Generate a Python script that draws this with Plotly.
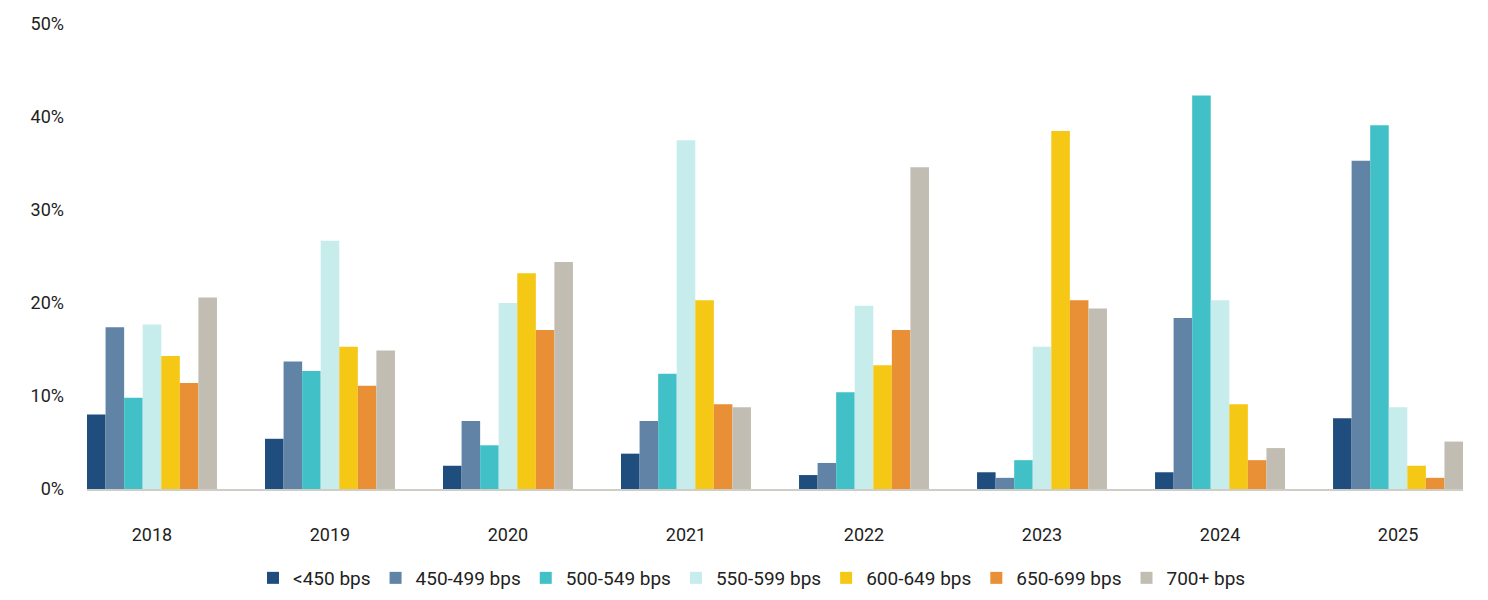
import plotly.graph_objects as go

years = ["2018", "2019", "2020", "2021", "2022", "2023", "2024", "2025"]
series_names = ["<450 bps", "450-499 bps", "500-549 bps", "550-599 bps",
                "600-649 bps", "650-699 bps", "700+ bps"]

lt450 = [8.0, 5.4, 2.5, 3.8, 1.5, 1.8, 1.8, 7.6]
s450_499 = [17.4, 13.7, 7.3, 7.3, 2.8, 1.2, 18.4, 35.3]
s500_549 = [9.8, 12.7, 4.7, 12.4, 10.4, 3.1, 42.3, 39.1]
s550_599 = [17.7, 26.7, 20.0, 37.5, 19.7, 15.3, 20.3, 8.8]
s600_649 = [14.3, 15.3, 23.2, 20.3, 13.3, 38.5, 9.1, 2.5]
s650_699 = [11.4, 11.1, 17.1, 9.1, 17.1, 20.3, 3.1, 1.2]
s700p = [20.6, 14.9, 24.4, 8.8, 34.6, 19.4, 4.4, 5.1]

y_ticks = [0, 10, 20, 30, 40, 50]
y_tick_labels = ["0%", "10%", "20%", "30%", "40%", "50%"]

colors = ["#1f4e7e", "#6083a6", "#41c1c7", "#c6ecec", "#f5c816", "#e98f36", "#c1bdb2"]
all_series = [lt450, s450_499, s500_549, s550_599, s600_649, s650_699, s700p]

FONT = "Roboto, sans-serif"
GAP = 0.27

fig = go.Figure()
for name, vals, c in zip(series_names, all_series, colors):
    fig.add_trace(go.Bar(x=years, y=vals, name=name, marker=dict(color=c, line=dict(width=0))))

fig.update_layout(
    width=1488, height=600,
    margin=dict(l=79, r=33, t=16, b=119, autoexpand=False),
    paper_bgcolor="white", plot_bgcolor="white",
    barmode="group", bargap=GAP, bargroupgap=0,
    font=dict(family=FONT, size=18, color="#222222"),
    showlegend=True,
    legend=dict(orientation="h", xref="container", x=0.5, xanchor="center",
                yref="container", y=0.05, yanchor="middle",
                font=dict(size=19), traceorder="normal"),
)
fig.update_yaxes(range=[0, 50], tickmode="array", tickvals=y_ticks, ticktext=y_tick_labels,
                 showgrid=False, zeroline=False, showline=False, ticks="",
                 ticklabelstandoff=22, automargin=False)
fig.update_xaxes(range=[-0.5 + GAP / 2, len(years) - 0.5 - GAP / 2],
                 showline=True, linecolor="#d0ccc6", linewidth=2, ticks="",
                 showgrid=False, ticklabelstandoff=28, automargin=False)

fig.write_html("out.html")
